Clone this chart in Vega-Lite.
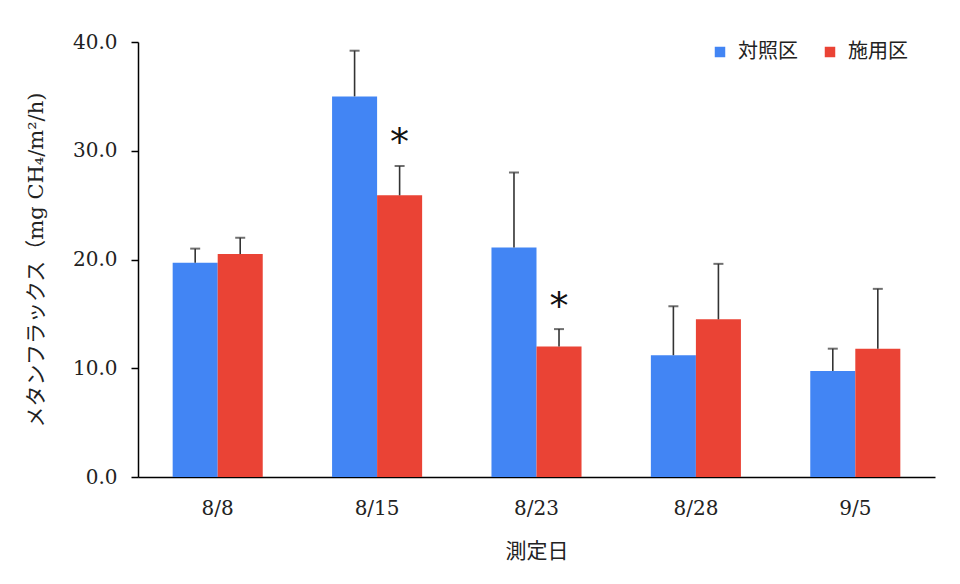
{
  "$schema": "https://vega.github.io/schema/vega-lite/v6.json",
  "width": 797,
  "height": 435,
  "autosize": {"type": "none"},
  "padding": {"left": 138, "top": 42, "right": 25, "bottom": 107},
  "background": "white",
  "data": {
    "values": [
      {"date": "8/8", "group": "対照区", "value": 19.7, "upper": 21.0},
      {"date": "8/8", "group": "施用区", "value": 20.5, "upper": 22.0},
      {"date": "8/15", "group": "対照区", "value": 35.0, "upper": 39.2},
      {"date": "8/15", "group": "施用区", "value": 25.9, "upper": 28.6, "sig": "*", "sigY": 31.4},
      {"date": "8/23", "group": "対照区", "value": 21.1, "upper": 28.0},
      {"date": "8/23", "group": "施用区", "value": 12.0, "upper": 13.6, "sig": "*", "sigY": 16.3},
      {"date": "8/28", "group": "対照区", "value": 11.2, "upper": 15.7},
      {"date": "8/28", "group": "施用区", "value": 14.5, "upper": 19.6},
      {"date": "9/5", "group": "対照区", "value": 9.75, "upper": 11.8},
      {"date": "9/5", "group": "施用区", "value": 11.8, "upper": 17.3}
    ]
  },
  "encoding": {
    "x": {
      "field": "date",
      "type": "nominal",
      "sort": ["8/8", "8/15", "8/23", "8/28", "9/5"],
      "scale": {"paddingInner": 0.435, "paddingOuter": 0.2175},
      "axis": {
        "title": "測定日",
        "labelAngle": 0,
        "ticks": false,
        "labelPadding": 21,
        "titlePadding": 22,
        "domainColor": "#000",
        "domainWidth": 1.5
      }
    },
    "xOffset": {
      "field": "group",
      "type": "nominal",
      "sort": ["対照区", "施用区"]
    }
  },
  "layer": [
    {
      "mark": {"type": "bar"},
      "encoding": {
        "y": {
          "field": "value",
          "type": "quantitative",
          "scale": {"domain": [0, 40]},
          "axis": {
            "title": "メタンフラックス（mg CH₄/m²/h)",
            "values": [0, 10, 20, 30, 40],
            "format": ".1f",
            "grid": false,
            "tickSize": 7,
            "tickColor": "#000",
            "tickWidth": 1.5,
            "domainColor": "#000",
            "domainWidth": 1.5,
            "labelPadding": 14,
            "titlePadding": 26
          }
        },
        "color": {
          "field": "group",
          "type": "nominal",
          "sort": ["対照区", "施用区"],
          "scale": {"range": ["#4285F4", "#EA4335"]},
          "legend": {
            "title": null,
            "orient": "none",
            "legendX": 572,
            "legendY": 0,
            "direction": "horizontal",
            "symbolType": "square",
            "symbolSize": 110,
            "symbolStrokeWidth": 0,
            "labelFontSize": 20,
            "labelFont": "Noto Sans CJK JP",
            "labelColor": "#222",
            "labelOffset": 8,
            "columnPadding": 22
          }
        }
      }
    },
    {
      "mark": {"type": "rule", "color": "#333", "strokeWidth": 1.6},
      "encoding": {
        "y": {"field": "value", "type": "quantitative"},
        "y2": {"field": "upper"}
      }
    },
    {
      "mark": {"type": "tick", "color": "#333", "size": 10, "thickness": 2},
      "encoding": {
        "y": {"field": "upper", "type": "quantitative"}
      }
    },
    {
      "transform": [{"filter": "datum.sig"}],
      "mark": {
        "type": "text",
        "fontSize": 38,
        "font": "DejaVu Sans",
        "baseline": "middle",
        "dy": 8,
        "color": "#111"
      },
      "encoding": {
        "y": {"field": "sigY", "type": "quantitative"},
        "text": {"field": "sig"}
      }
    }
  ],
  "config": {
    "view": {"stroke": null},
    "axis": {
      "labelFont": "DejaVu Serif",
      "labelFontSize": 20,
      "labelColor": "#222",
      "titleFont": "DejaVu Serif, Noto Sans CJK JP",
      "titleFontSize": 21,
      "titleFontWeight": "normal",
      "titleColor": "#222"
    }
  }
}
